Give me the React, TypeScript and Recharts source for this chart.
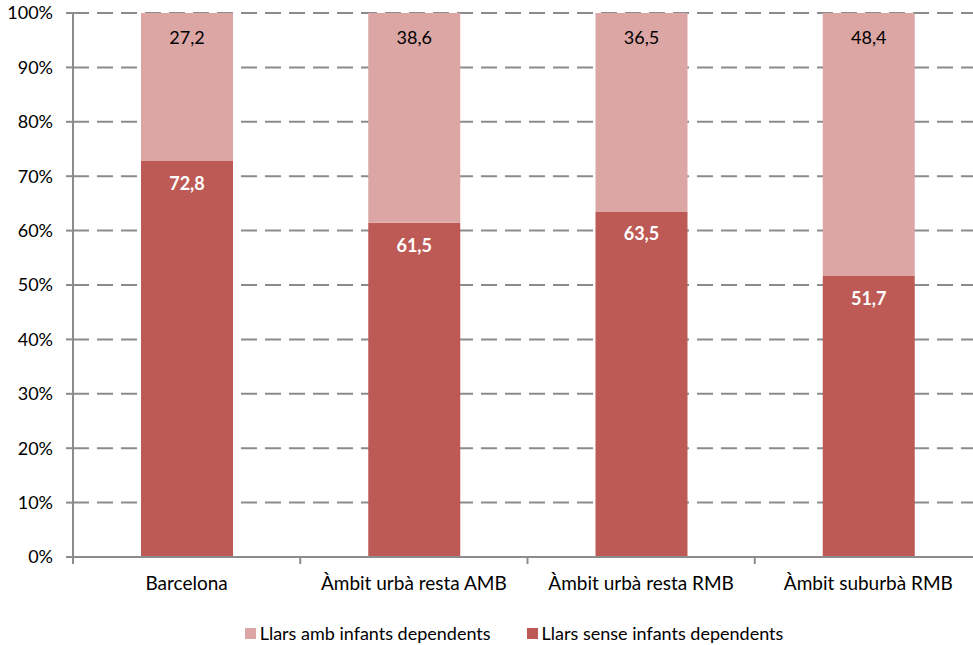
import React from "react";
import {
  BarChart,
  Bar,
  XAxis,
  YAxis,
  CartesianGrid,
  Legend,
  LabelList,
} from "recharts";

const categories = [
  "Barcelona",
  "Àmbit urbà resta AMB",
  "Àmbit urbà resta RMB",
  "Àmbit suburbà RMB",
];
const senseValues = [72.8, 61.5, 63.5, 51.7];
const ambValues = [27.2, 38.6, 36.5, 48.4];
const yTicks = [0, 0.1, 0.2, 0.3, 0.4, 0.5, 0.6, 0.7, 0.8, 0.9, 1];

const DARK = "#BD5A55";
const LIGHT = "#DBA6A4";
const AXIS = "#8C8C8C";
const FONT = "Lato, 'Open Sans', sans-serif";

const data = categories.map((name, i) => ({
  name,
  sense: senseValues[i],
  amb: ambValues[i],
}));

const fmt = (v: any) => Number(v).toFixed(1).replace(".", ",");

const CategoryTick = (props: any) => {
  const { x, y, payload, index, visibleTicksCount } = props;
  const half = payload && payload.offset ? payload.offset : 113.5;
  const last = index === (visibleTicksCount ?? categories.length) - 1;
  return (
    <g>
      <line x1={x - half} y1={y - 8} x2={x - half} y2={y - 1} stroke={AXIS} strokeWidth={2} />
      {last && (
        <line x1={x + half} y1={y - 8} x2={x + half} y2={y - 1} stroke={AXIS} strokeWidth={2} />
      )}
      <text x={x} y={y + 25} textAnchor="middle" fill="#000" fontSize={19} fontFamily={FONT}>
        {payload.value}
      </text>
    </g>
  );
};

const legendItems = [
  { label: "Llars amb infants dependents", color: LIGHT },
  { label: "Llars sense infants dependents", color: DARK },
];

const LegendContent = () => (
  <div
    style={{
      height: 38,
      display: "flex",
      justifyContent: "center",
      alignItems: "flex-end",
      paddingLeft: 46,
      fontFamily: FONT,
      fontSize: 18,
      color: "#000",
    }}
  >
    {legendItems.map((it, i) => (
      <div
        key={it.label}
        style={{ display: "flex", alignItems: "center", marginLeft: i ? 36 : 0, marginBottom: 1 }}
      >
        <span style={{ width: 11, height: 11, background: it.color, marginRight: 4, display: "inline-block" }} />
        <span>{it.label}</span>
      </div>
    ))}
  </div>
);

export default function App() {
  return (
    <div
      style={{
        position: "absolute",
        left: 0,
        top: 0,
        width: 973,
        height: 645,
        overflow: "hidden",
        background: "#fff",
        fontFamily: FONT,
      }}
    >
      <BarChart
        width={1000}
        height={645}
        data={data}
        stackOffset="expand"
        margin={{ top: 13, right: 18, left: 0, bottom: 0 }}
        barSize={92}
      >
        <CartesianGrid
          vertical={false}
          stroke={AXIS}
          strokeWidth={2}
          strokeDasharray="16 8"
        />
        <XAxis
          dataKey="name"
          height={50}
          tickLine={false}
          axisLine={{ stroke: AXIS, strokeWidth: 2 }}
          tick={<CategoryTick />}
          interval={0}
        />
        <YAxis
          width={73}
          domain={[0, 1]}
          ticks={yTicks}
          tickFormatter={(v: number) => `${Math.round(v * 100)}%`}
          tickSize={7}
          tickMargin={13}
          tickLine={{ stroke: AXIS, strokeWidth: 2 }}
          axisLine={{ stroke: AXIS, strokeWidth: 2 }}
          tick={{ fill: "#000", fontSize: 18, fontFamily: FONT }}
        />
        <Legend verticalAlign="bottom" height={38} content={<LegendContent />} />
        <Bar dataKey="sense" stackId="a" fill={DARK} isAnimationActive={false}>
          <LabelList
            dataKey="sense"
            position="insideTop"
            offset={16}
            formatter={fmt}
            fill="#fff"
            fontWeight="bold"
            fontSize={18}
            fontFamily={FONT}
          />
        </Bar>
        <Bar dataKey="amb" stackId="a" fill={LIGHT} isAnimationActive={false}>
          <LabelList
            dataKey="amb"
            position="insideTop"
            offset={18}
            formatter={fmt}
            fill="#000"
            fontSize={18}
            fontFamily={FONT}
          />
        </Bar>
      </BarChart>
    </div>
  );
}
